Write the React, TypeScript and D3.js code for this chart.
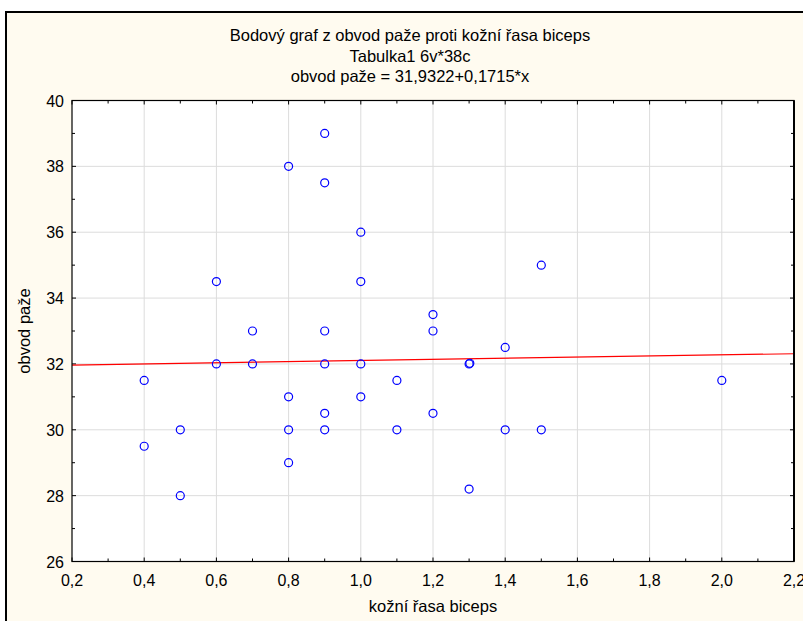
import React, { useEffect, useRef } from "react";
import * as d3 from "d3";

// kožní řasa biceps (x) a obvod paže (y)
const skinFold = [
  0.4, 0.4, 0.5, 0.5, 0.6, 0.6, 0.7, 0.7,
  0.8, 0.8, 0.8, 0.8,
  0.9, 0.9, 0.9, 0.9, 0.9, 0.9,
  1.0, 1.0, 1.0, 1.0,
  1.1, 1.1, 1.2, 1.2, 1.2,
  1.3, 1.302, 1.3, 1.4, 1.4, 1.5, 1.5, 2.0,
];
const armCirc = [
  31.5, 29.5, 30, 28, 34.5, 32, 33, 32,
  38, 31, 30, 29,
  39, 37.5, 33, 32, 30.5, 30,
  36, 34.5, 32, 31,
  31.5, 30, 33.5, 33, 30.5,
  32, 32.02, 28.2, 32.5, 30, 35, 30, 31.5,
];
const xTicks = [0.2, 0.4, 0.6, 0.8, 1.0, 1.2, 1.4, 1.6, 1.8, 2.0, 2.2];
const yTicks = [26, 28, 30, 32, 34, 36, 38, 40];
const intercept = 31.9322;
const slope = 0.1715;

const titles = [
  "Bodový graf z obvod paže proti kožní řasa biceps",
  "Tabulka1 6v*38c",
  "obvod paže = 31,9322+0,1715*x",
];

export default function App() {
  const ref = useRef<SVGSVGElement>(null);

  useEffect(() => {
    const width = 803, height = 621;
    const m = { left: 72, top: 100.5, right: 794, bottom: 561.5 };

    const svg = d3.select(ref.current);
    svg.selectAll("*").remove();

    // background frame
    svg.append("rect")
      .attr("x", 0).attr("y", 0).attr("width", width).attr("height", height)
      .attr("fill", "#ffffff");
    svg.append("rect")
      .attr("x", 6).attr("y", 12).attr("width", 812).attr("height", 640)
      .attr("fill", "#fffbf0")
      .attr("stroke", "#000").attr("stroke-width", 2);

    const x = d3.scaleLinear().domain([0.2, 2.2]).range([m.left, m.right]);
    const y = d3.scaleLinear().domain([26, 40]).range([m.bottom, m.top]);

    svg.append("rect")
      .attr("x", m.left).attr("y", m.top)
      .attr("width", m.right - m.left).attr("height", m.bottom - m.top)
      .attr("fill", "#fff");

    // grid
    svg.append("g").selectAll("line").data(xTicks.slice(1, -1)).enter().append("line")
      .attr("x1", d => x(d)).attr("x2", d => x(d))
      .attr("y1", m.top).attr("y2", m.bottom)
      .attr("stroke", "#dcdcdc").attr("stroke-width", 1);
    svg.append("g").selectAll("line").data(yTicks.slice(1, -1)).enter().append("line")
      .attr("y1", d => y(d)).attr("y2", d => y(d))
      .attr("x1", m.left).attr("x2", m.right)
      .attr("stroke", "#dcdcdc").attr("stroke-width", 1);

    // ticks (inward, major + minor)
    const xMinor = d3.range(0.3, 2.2, 0.2);
    const yMinor = d3.range(27, 40, 2);
    const tickG = svg.append("g").attr("stroke", "#000").attr("stroke-width", 1);
    xTicks.concat(xMinor).forEach((t, i) => {
      const len = i < xTicks.length ? 4 : 3;
      tickG.append("line").attr("x1", x(t)).attr("x2", x(t))
        .attr("y1", m.top).attr("y2", m.top + len);
      tickG.append("line").attr("x1", x(t)).attr("x2", x(t))
        .attr("y1", m.bottom).attr("y2", m.bottom - len);
    });
    yTicks.concat(yMinor).forEach((t, i) => {
      const len = i < yTicks.length ? 4 : 3;
      tickG.append("line").attr("y1", y(t)).attr("y2", y(t))
        .attr("x1", m.left).attr("x2", m.left + len);
      tickG.append("line").attr("y1", y(t)).attr("y2", y(t))
        .attr("x1", m.right).attr("x2", m.right - len);
    });

    // regression line
    svg.append("line")
      .attr("x1", x(0.2)).attr("y1", y(intercept + slope * 0.2))
      .attr("x2", x(2.2)).attr("y2", y(intercept + slope * 2.2))
      .attr("stroke", "#ff0000").attr("stroke-width", 1.2);

    // points
    const pts = skinFold.map((v, i) => [v, armCirc[i]]);
    svg.append("g").selectAll("circle").data(pts).enter().append("circle")
      .attr("cx", d => x(d[0])).attr("cy", d => y(d[1])).attr("r", 4)
      .attr("fill", "none").attr("stroke", "#0000ff").attr("stroke-width", 1.2);

    // plot border
    svg.append("rect")
      .attr("x", m.left).attr("y", m.top)
      .attr("width", m.right - m.left).attr("height", m.bottom - m.top)
      .attr("fill", "none").attr("stroke", "#000").attr("stroke-width", 1.2);
    svg.append("line").attr("x1", m.right).attr("x2", m.right)
      .attr("y1", m.top).attr("y2", m.bottom)
      .attr("stroke", "#000").attr("stroke-width", 2);

    const font = "Arial, 'Liberation Sans', sans-serif";

    // tick labels
    svg.append("g").selectAll("text").data(xTicks).enter().append("text")
      .attr("x", d => x(d)).attr("y", m.bottom + 24.5)
      .attr("text-anchor", "middle")
      .style("font-family", font).style("font-size", "16px")
      .text(d => d3.format(".1f")(d).replace(".", ","));
    svg.append("g").selectAll("text").data(yTicks).enter().append("text")
      .attr("x", m.left - 8).attr("y", d => y(d) + 6)
      .attr("text-anchor", "end")
      .style("font-family", font).style("font-size", "16px")
      .text(d => d);

    // titles
    svg.append("g").selectAll("text").data(titles).enter().append("text")
      .attr("x", 410).attr("y", (d, i) => 41 + i * 20.5)
      .attr("text-anchor", "middle")
      .style("font-family", font)
      .style("font-size", "16.5px")
      .text(d => d);

    // axis titles
    svg.append("text")
      .attr("x", (m.left + m.right) / 2).attr("y", 612)
      .attr("text-anchor", "middle")
      .style("font-family", font)
      .style("font-size", "16.5px")
      .text("kožní řasa biceps");
    svg.append("text")
      .attr("transform", `translate(30, ${(m.top + m.bottom) / 2}) rotate(-90)`)
      .attr("text-anchor", "middle")
      .style("font-family", font).style("font-size", "16.5px")
      .text("obvod paže");
  }, []);

  return (
    <svg ref={ref} width={803} height={621}
      style={{ position: "absolute", left: 0, top: 0, display: "block" }} />
  );
}
